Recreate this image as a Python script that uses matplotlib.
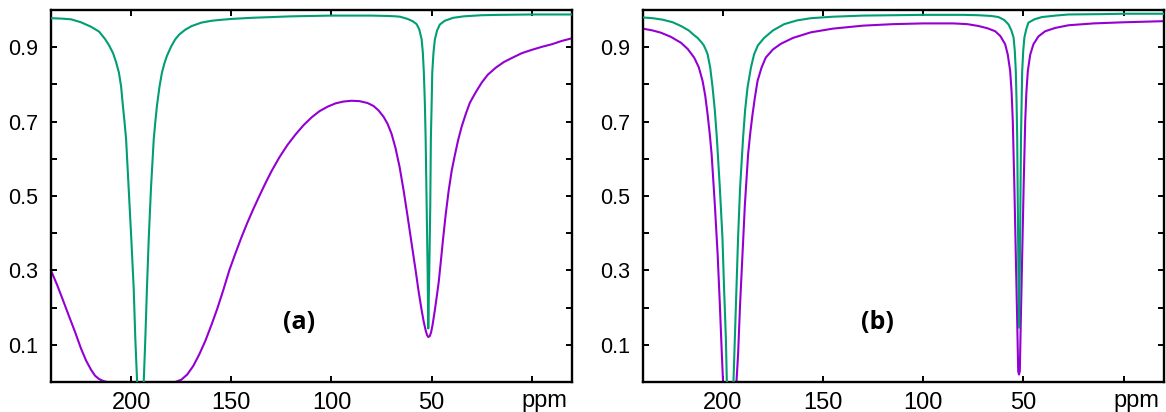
import matplotlib
matplotlib.use("Agg")
import matplotlib.pyplot as plt

plt.rcParams['font.family'] = ['Liberation Sans', 'DejaVu Sans']

# colours (gnuplot default line colours 1 and 2)
PURPLE = '#9400d3'
GREEN = '#009e73'

# ---- panel (a) ----
a_green_ppm = [240, 235, 230, 225, 220, 216, 213, 211, 209, 207.5, 206.1, 205, 204.1,
               203.3, 202.5, 201.2, 199.9, 198.7, 197.9, 197.0, 195.4, 193.7, 192.9,
               192.1, 191.2, 190.1, 188.7, 187.9, 187.1, 185.8, 184.6, 183.3, 182.1,
               180, 178, 176, 173, 169.7, 165, 160, 156.4, 150, 140, 130, 120, 100, 80,
               72, 68, 65.8, 62, 59.5, 57.5, 56.2, 55.0, 54.4, 53.9, 53.4, 53.0, 52.5,
               52.0, 51.7, 51.2, 50.7, 50.4, 50.0, 49.7, 49.1, 48.4, 47.3, 45.9, 43.5,
               39.3, 34, 25, 16, 0, -20]
a_green_val = [0.978, 0.977, 0.975, 0.967, 0.955, 0.942, 0.922, 0.905, 0.884, 0.860,
               0.832, 0.795, 0.743, 0.700, 0.653, 0.519, 0.385, 0.251, 0.117, 0.0,
               -0.6, 0.0, 0.117, 0.251, 0.385, 0.519, 0.653, 0.700, 0.743, 0.795,
               0.832, 0.858, 0.877, 0.902, 0.921, 0.934, 0.947, 0.957, 0.966, 0.971,
               0.973, 0.976, 0.979, 0.981, 0.983, 0.985, 0.985, 0.984, 0.983, 0.982,
               0.976, 0.970, 0.962, 0.948, 0.921, 0.885, 0.832, 0.750, 0.653, 0.475,
               0.296, 0.144, 0.296, 0.475, 0.653, 0.750, 0.832, 0.885, 0.921, 0.945,
               0.961, 0.971, 0.979, 0.983, 0.986, 0.987, 0.988, 0.988]

a_purple_ppm = [240, 237, 234, 231, 228, 225, 222.5, 220, 218, 216, 214, 212, 195, 178,
                175, 172, 169, 166, 163, 160, 157, 154, 151, 148, 145, 142, 139, 136,
                133, 130, 126, 122, 118, 114, 110, 106, 102, 98, 94, 90, 86, 82, 79,
                76.5, 74, 72, 70, 68, 66, 64, 62, 60, 58, 56.5, 55, 54, 53, 52.3, 51.7,
                51, 50.3, 49.5, 48.5, 47.5, 46.5, 45.5, 44.3, 43, 41.5, 40, 38.5, 36.8,
                35, 33, 31, 28, 25, 22, 18, 14, 10, 5, 0, -5, -10, -15, -20]
a_purple_val = [0.300, 0.262, 0.220, 0.177, 0.135, 0.090, 0.058, 0.033, 0.017, 0.008,
                0.003, 0.0, 0.0, 0.0, 0.006, 0.020, 0.043, 0.074, 0.110, 0.152, 0.197,
                0.247, 0.300, 0.345, 0.388, 0.428, 0.465, 0.500, 0.534, 0.566, 0.604,
                0.637, 0.665, 0.690, 0.711, 0.728, 0.740, 0.749, 0.754, 0.756, 0.755,
                0.750, 0.742, 0.730, 0.713, 0.694, 0.667, 0.628, 0.578, 0.515, 0.445,
                0.372, 0.300, 0.243, 0.193, 0.163, 0.139, 0.126, 0.121, 0.123, 0.133,
                0.155, 0.190, 0.228, 0.268, 0.320, 0.385, 0.450, 0.515, 0.568, 0.608,
                0.650, 0.687, 0.720, 0.750, 0.779, 0.805, 0.826, 0.845, 0.860, 0.871,
                0.884, 0.893, 0.901, 0.908, 0.917, 0.924]

# ---- panel (b) ----
b_green_ppm = [240, 235, 230, 225, 220.9, 217, 214.5, 212.6, 210.8, 209.5, 208.5, 207.6,
               206.3, 205.1, 204, 203.0, 201.5, 200.2, 199.4, 198.5, 198.0, 196.3, 194.7,
               194.0, 193.2, 192.4, 191.4, 189.9, 188.9, 187.7, 186.0, 184.4, 182.5,
               179.4, 175, 169.4, 163, 156.1, 145, 130, 100, 80, 72.4, 66, 62.4, 59.5,
               57.4, 56, 54.9, 54.3, 53.8, 53.4, 53.1, 52.8, 52.5, 52.15, 51.8, 51.5,
               51.2, 50.9, 50.6, 50.1, 49.5, 48.6, 47.5, 44.5, 40.8, 34, 27.5, 10, 0, -20]
b_green_val = [0.980, 0.978, 0.974, 0.967, 0.957, 0.945, 0.933, 0.925, 0.914, 0.905,
               0.893, 0.881, 0.845, 0.791, 0.730, 0.657, 0.522, 0.388, 0.253, 0.119,
               0.0, -0.6, 0.0, 0.119, 0.253, 0.388, 0.522, 0.657, 0.730, 0.791, 0.845,
               0.881, 0.905, 0.925, 0.945, 0.962, 0.972, 0.978, 0.982, 0.985, 0.987,
               0.987, 0.986, 0.984, 0.981, 0.973, 0.961, 0.945, 0.926, 0.890, 0.836,
               0.750, 0.657, 0.477, 0.298, 0.146, 0.298, 0.477, 0.657, 0.750, 0.836,
               0.890, 0.926, 0.948, 0.966, 0.975, 0.981, 0.985, 0.988, 0.989, 0.990,
               0.990]

b_purple_ppm = [240, 235, 230.9, 226, 220.9, 217.5, 214.3, 212, 210.1, 208.8, 207.6,
                206.5, 205.6, 204.0, 202.6, 201.5, 200.5, 199.9, 196.5, 193.2, 192.4,
                191.4, 190.2, 189.0, 187.4, 186.3, 185.2, 184, 182.7, 180.7, 178.6, 175,
                171.1, 165, 156.1, 145, 130, 115, 100, 85, 78, 72.4, 68, 64.1, 61.5,
                59.1, 57.8, 56.6, 55.9, 55.3, 54.5, 53.8, 53.1, 52.6, 52.2, 51.8, 51.3,
                50.6, 49.9, 49.1, 48.5, 47.8, 46.6, 45.0, 42.5, 39.1, 34, 27.5, 15, 0, -20]
b_purple_val = [0.950, 0.945, 0.939, 0.928, 0.912, 0.895, 0.872, 0.846, 0.809, 0.770,
                0.719, 0.665, 0.612, 0.477, 0.343, 0.209, 0.074, 0.0, -0.6, 0.0, 0.074,
                0.209, 0.343, 0.477, 0.612, 0.670, 0.719, 0.765, 0.809, 0.845, 0.872,
                0.894, 0.909, 0.925, 0.940, 0.950, 0.958, 0.962, 0.964, 0.964, 0.962,
                0.957, 0.951, 0.943, 0.930, 0.908, 0.880, 0.836, 0.780, 0.701, 0.522,
                0.343, 0.164, 0.029, 0.020, 0.029, 0.164, 0.343, 0.522, 0.701, 0.780,
                0.836, 0.880, 0.908, 0.929, 0.943, 0.952, 0.959, 0.964, 0.967, 0.970]

x_ticks = [200, 150, 100, 50, 0]
x_labels = ['200', '150', '100', '50', '']
y_ticks = [0.0, 0.1, 0.2, 0.3, 0.4, 0.5, 0.6, 0.7, 0.8, 0.9, 1.0]
y_labels = ['', '0.1', '', '0.3', '', '0.5', '', '0.7', '', '0.9', '']

panels = [
    ('(a)', a_purple_ppm, a_purple_val, a_green_ppm, a_green_val, (116, 0.16)),
    ('(b)', b_purple_ppm, b_purple_val, b_green_ppm, b_green_val, (123, 0.16)),
]

fig = plt.figure(figsize=(11.66, 4.12), dpi=100)
lefts = [0.0437, 0.5512]

for left, (tag, pp, pv, gp, gv, tagpos) in zip(lefts, panels):
    ax = fig.add_axes([left, 0.0728, 0.4468, 0.9029])
    ax.plot(pp, pv, color=PURPLE, lw=1.5, zorder=2)
    ax.plot(gp, gv, color=GREEN, lw=1.5, zorder=3)
    ax.set_xlim(240, -20)
    ax.set_ylim(0, 1)
    ax.set_xticks(x_ticks)
    ax.set_xticklabels(x_labels, fontsize=17)
    ax.set_yticks(y_ticks)
    ax.set_yticklabels(y_labels, fontsize=15.5)
    ax.tick_params(direction='in', top=True, right=True, length=4, width=1.4)
    ax.tick_params(axis='x', pad=7)
    ax.tick_params(axis='y', pad=9)
    for s in ax.spines.values():
        s.set_linewidth(1.7)
    ax.text(-6.5, -0.066, 'ppm', fontsize=17, ha='center', va='baseline',
            transform=ax.get_xaxis_transform())
    ax.text(tagpos[0], tagpos[1], tag, fontsize=18, fontweight='bold',
            family=['Open Sans', 'DejaVu Sans'], ha='center', va='center')

fig.savefig('out.png', dpi=100)
